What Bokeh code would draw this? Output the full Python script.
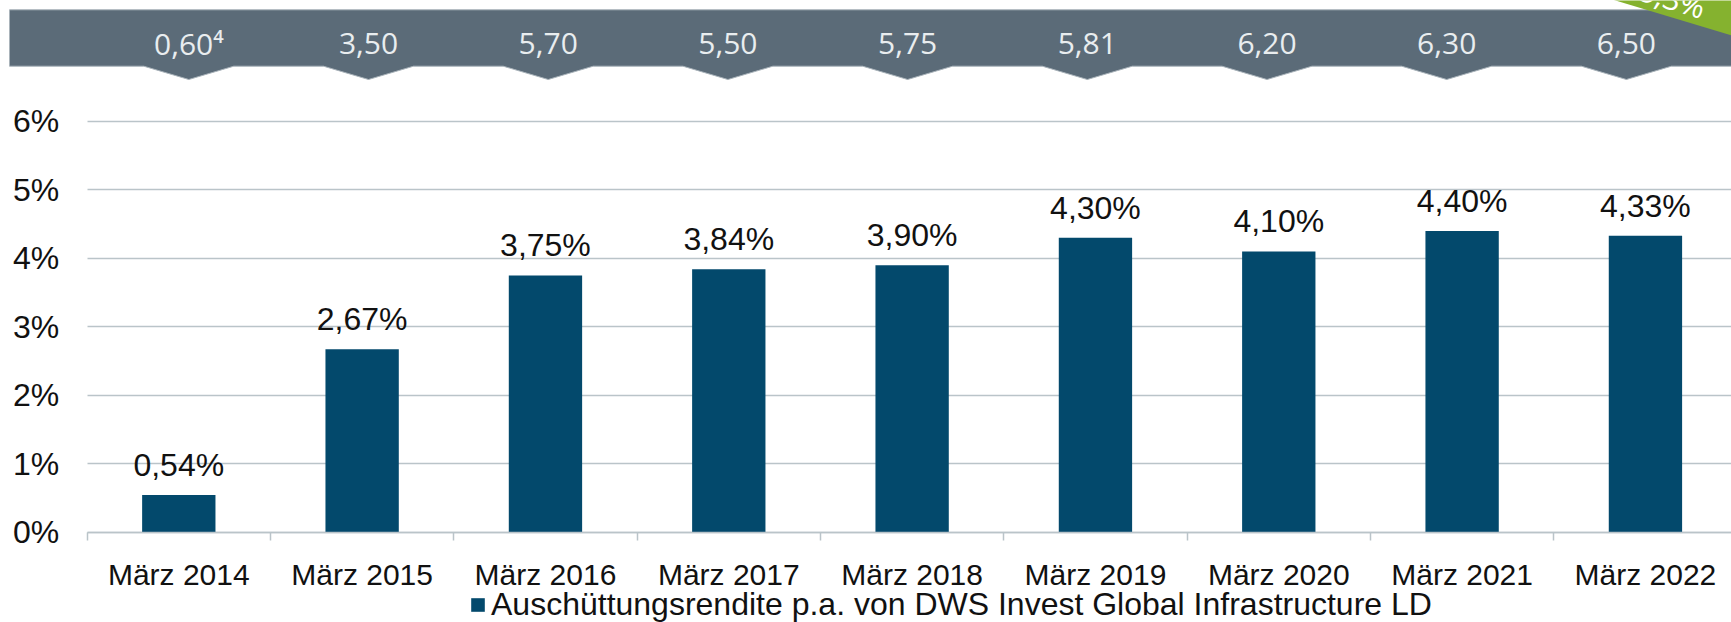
from bokeh.plotting import figure
from bokeh.models import Range1d, FixedTicker, Legend, LegendItem, ColumnDataSource
from bokeh.core.properties import value
from bokeh.embed import file_html
from bokeh.resources import INLINE

# ---------------- data ----------------
categories = ["März 2014", "März 2015", "März 2016", "März 2017", "März 2018",
              "März 2019", "März 2020", "März 2021", "März 2022"]
yields = [0.54, 2.67, 3.75, 3.84, 3.90, 4.30, 4.10, 4.40, 4.33]
yield_labels = ["0,54%", "2,67%", "3,75%", "3,84%", "3,90%", "4,30%", "4,10%", "4,40%", "4,33%"]
payout_labels = ["0,60\u2074", "3,50", "5,70", "5,50", "5,75", "5,81", "6,20", "6,30", "6,50"]
y_ticks = [0, 1, 2, 3, 4, 5, 6]
y_tick_labels = ["0%", "1%", "2%", "3%", "4%", "5%", "6%"]
series_name = "Auschüttungsrendite p.a. von DWS Invest Global Infrastructure LD"
corner_label = "5,3%"

# ---------------- layout constants ----------------
W, H = 1731, 622
MARGIN = 0
PX = 183.33          # pixels per category
PY = 68.42           # pixels per percent
ZERO_PAGE_Y = 531.5
FIRST_CENTER_PAGE_X = 178.3

x_start = -(FIRST_CENTER_PAGE_X - MARGIN) / PX
x_end = x_start + W / PX
y_end = (ZERO_PAGE_Y - MARGIN) / PY
y_start = -(MARGIN + H - ZERO_PAGE_Y) / PY


def dx(page_x):
    return x_start + (page_x - MARGIN) / PX


def dy(page_y):
    return (ZERO_PAGE_Y - page_y) / PY


BAR_COLOR = "#03496C"
GRID_COLOR = "#BAC4C9"
BANNER_COLOR = "#5B6B78"
GREEN = "#85B22F"
FONT = "Liberation Sans"

p = figure(width=W, height=H, x_range=Range1d(x_start, x_end), y_range=Range1d(y_start, y_end),
           output_backend="svg", toolbar_location=None, min_border=0,
           outline_line_color=None, background_fill_color="white", border_fill_color="white")

idx = list(range(len(categories)))
src = ColumnDataSource(dict(x=idx, top=yields, lab=yield_labels))

# ---------------- axes ----------------
xa = p.xaxis[0]
xa.fixed_location = 0
xa.bounds = (-0.5, len(categories) - 0.5)
xa.ticker = FixedTicker(ticks=idx, minor_ticks=[i - 0.5 for i in range(len(categories) + 1)])
xa.major_label_overrides = {i: c for i, c in enumerate(categories)}
xa.major_tick_out = 0
xa.major_tick_in = 0
xa.minor_tick_in = 0
xa.minor_tick_out = 8
xa.minor_tick_line_color = GRID_COLOR
xa.minor_tick_line_width = 1.5
xa.axis_line_color = GRID_COLOR
xa.axis_line_width = 1.5
xa.major_label_standoff = 18
xa.major_label_text_font = FONT
xa.major_label_text_font_size = "30px"
xa.major_label_text_color = "#111111"

ya = p.yaxis[0]
ya.fixed_location = -0.5
ya.ticker = FixedTicker(ticks=y_ticks)
ya.major_label_overrides = {t: l for t, l in zip(y_ticks, y_tick_labels)}
ya.major_tick_out = 0
ya.major_tick_in = 0
ya.minor_tick_out = 0
ya.minor_tick_in = 0
ya.axis_line_color = None
ya.major_label_standoff = 28
ya.major_label_text_font = FONT
ya.major_label_text_font_size = "32px"
ya.major_label_text_color = "#111111"

p.xgrid.visible = False
p.ygrid.ticker = FixedTicker(ticks=y_ticks)
p.ygrid.grid_line_color = GRID_COLOR
p.ygrid.grid_line_width = 1.5
try:
    p.ygrid.cross_bounds = (-0.5, len(categories) - 0.5)
except Exception:
    p.ygrid.visible = False
    p.segment(x0=[-0.5] * len(y_ticks), x1=[len(categories) - 0.5] * len(y_ticks),
              y0=y_ticks, y1=y_ticks, line_color=GRID_COLOR, line_width=1.5)

# ---------------- bars + labels ----------------
bars = p.vbar(x="x", top="top", bottom=0, width=0.4, source=src,
              fill_color=BAR_COLOR, line_color=None)
p.text(x="x", y="top", text="lab", source=src, text_align="center",
       text_baseline="alphabetic", y_offset=-30, text_font=value(FONT),
       text_font_size="32px", text_color="#111111")

# ---------------- top banner with arrows ----------------
b_left, b_right = dx(9), dx(1760)
b_top, b_bot, b_tip = dy(9.3), dy(65.7), dy(79)
tips = [dx(188.3 + 179.7 * i) for i in range(len(payout_labels))]
hw = 45 / PX
xs = [b_left, b_right, b_right]
ys = [b_top, b_top, b_bot]
for t in reversed(tips):
    xs += [t + hw, t, t - hw]
    ys += [b_bot, b_tip, b_bot]
xs.append(b_left)
ys.append(b_bot)
p.patch(xs, ys, fill_color=BANNER_COLOR, line_color="#A9B3BA", line_width=1)
p.text(x=tips, y=[dy(42.5)] * len(tips), text=payout_labels, text_align="center",
       text_baseline="middle", text_font=value("Open Sans"), text_font_size="30px",
       text_color="#E9EDEF")

# ---------------- green corner ribbon ----------------
slope = 35 / (1731 - 1615)
gx = [1615 - 30 / slope, 1800, 1800]
gy = [-30, -30, (1800 - 1615) * slope]
p.patch([dx(v) for v in gx], [dy(v) for v in gy], fill_color=GREEN, line_color=None)
p.text(x=[dx(1672)], y=[dy(-2)], text=[corner_label], angle=-0.293, text_align="center",
       text_baseline="middle", text_font=value("Open Sans"), text_font_size="30px",
       text_color="white")

# ---------------- legend ----------------
legend = Legend(items=[LegendItem(label=series_name, renderers=[bars])],
                location=(469, -1), orientation="horizontal",
                glyph_width=17, glyph_height=17, label_standoff=5,
                label_text_font=FONT, label_text_font_size="32px",
                label_text_color="#111111", padding=0, margin=0, spacing=0,
                border_line_color=None, background_fill_alpha=0)
p.add_layout(legend)

open("out.html", "w").write(file_html(p, INLINE))
